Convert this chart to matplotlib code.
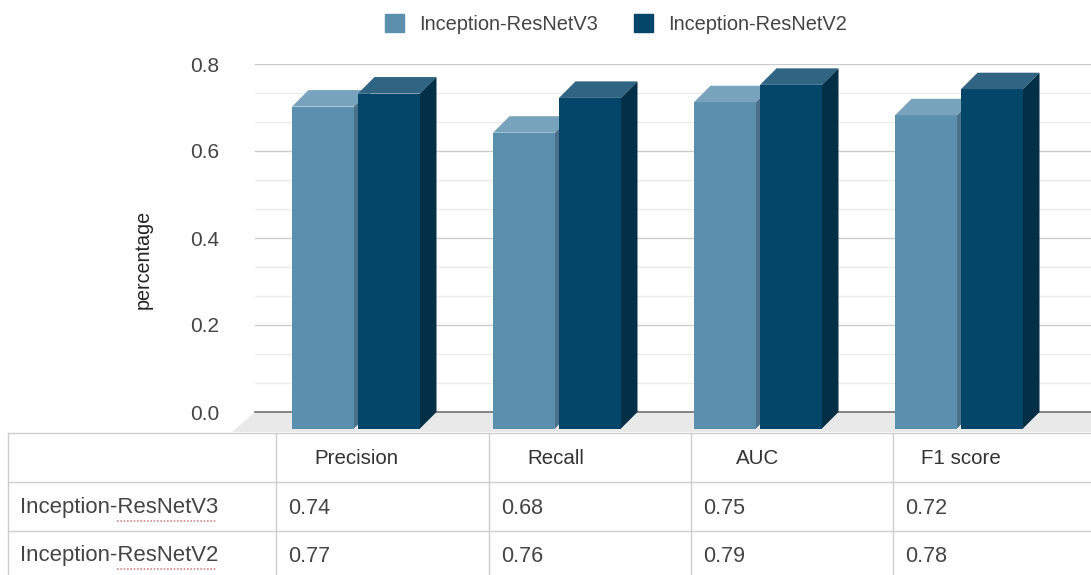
import matplotlib
matplotlib.use('Agg')
import matplotlib.pyplot as plt
from matplotlib.patches import Patch, Polygon

plt.rcParams['font.family'] = ['Liberation Sans', 'DejaVu Sans']

metrics = ['Precision', 'Recall', 'AUC', 'F1 score']
models = ['Inception-ResNetV3', 'Inception-ResNetV2']
v3_values = [0.74, 0.68, 0.75, 0.72]
v2_values = [0.77, 0.76, 0.79, 0.78]
y_ticks = [0.0, 0.2, 0.4, 0.6, 0.8]

W, H = 1091, 575
fig = plt.figure(figsize=(W / 100, H / 100), dpi=100)

#Axes runs from value 0 to 0.8 and the bars hang below it for the 3D effect
ax = fig.add_axes([255 / W, 1 - 412 / H, (W - 255) / W, (412 - 64) / H])
ax.set_ylim(0, 0.8)
# one category is 201 px wide, first one centred at px 356
ax.set_xlim((255 - 356) / 201, (W - 356) / 201)
px_x = 1 / 201
px_y = 0.8 / 348
depth_x = 16.5 * px_x
depth_y = 16.5 * px_y

for s in ['top', 'left', 'right']:
    ax.spines[s].set_visible(False)
ax.spines['bottom'].set_color('#707070')
ax.spines['bottom'].set_linewidth(1.2)
ax.set_xticks([])
ax.set_yticks(y_ticks)
ax.set_yticklabels(['%.1f' % t for t in y_ticks], fontsize=15, color='#444444')
ax.set_yticks([t / 15 for t in range(12) if t % 3 != 0], minor=True)
ax.tick_params(axis='y', which='both', length=0, pad=26)
ax.grid(axis='y', which='major', color='#cccccc', lw=1.0)
ax.grid(axis='y', which='minor', color='#ebebeb', lw=1.0)
ax.set_axisbelow(True)
ax.set_ylabel('percentage', fontsize=14.2, color='#222222')
ax.yaxis.set_label_coords((153 - 255) / (W - 255), (412 - 259) / (412 - 64))

# floor under the bars
floor = Polygon([(ax.get_xlim()[0], 0), (ax.get_xlim()[1], 0), (ax.get_xlim()[1], -depth_y - 3 * px_y),
                 (ax.get_xlim()[0] - 23 * px_x, -depth_y - 3 * px_y)],
                facecolor='#e9e9e9', edgecolor='none', clip_on=False, zorder=1)
ax.add_patch(floor)


def draw_bars(xs, values, bar_w, front, top, side):
    bars = ax.bar(xs, [v for v in values], bar_w, bottom=-depth_y, color=front,
                  clip_on=False, zorder=3, linewidth=0)
    for b in bars:
        x0 = b.get_x()
        x1 = x0 + b.get_width()
        y1 = b.get_y() + b.get_height()
        y0 = b.get_y()
        ax.add_patch(Polygon([(x0, y1), (x1, y1), (x1 + depth_x, y1 + depth_y), (x0 + depth_x, y1 + depth_y)],
                             facecolor=top, edgecolor='none', clip_on=False, zorder=3))
        ax.add_patch(Polygon([(x1, y0), (x1 + depth_x, y0 + depth_y), (x1 + depth_x, y1 + depth_y), (x1, y1)],
                             facecolor=side, edgecolor='none', clip_on=False, zorder=3))


positions = range(len(metrics))
draw_bars([p - 33 * px_x for p in positions], v3_values, 62 * px_x, '#5b8fae', '#77a3bd', '#4a7189')
draw_bars([p + 33 * px_x for p in positions], v2_values, 62 * px_x, '#03466a', '#2f6482', '#032f47')

fig.legend(handles=[Patch(color='#5b8fae'), Patch(color='#03466a')], labels=models,
           loc='center', bbox_to_anchor=(616 / W, 1 - 24 / H), ncol=2, frameon=False,
           fontsize=14.4, labelcolor='#444444', handlelength=0.95, handleheight=0.95,
           handletextpad=0.75, columnspacing=1.8)

#The table under the chart, drawn in pixel coordinates on its own axes
tb = fig.add_axes([0, 0, 1, 1], facecolor='none')
tb.set_xlim(0, W)
tb.set_ylim(H, 0)
tb.axis('off')
line_col = '#cdcdcd'
for y in [433, 482, 531]:
    tb.plot([8, W], [y, y], color=line_col, lw=1.0)
for x in [8, 276, 489, 691, 893]:
    tb.plot([x, x], [433, H], color=line_col, lw=1.0)

header_x = [314, 527, 736, 921]
value_x = [288, 501, 703, 905]
for x, m in zip(header_x, metrics):
    tb.text(x, 458, m, fontsize=14.8, color='#333333', va='center')
for name, vals, y in [(models[0], v3_values, 508), (models[1], v2_values, 556)]:
    tb.text(20, y, name, fontsize=15.9, color='#444444', va='center')
    tb.plot([117, 216], [y + 13, y + 13], color='#d08a8a', lw=1.2, ls=(0, (1, 1)))
    for x, v in zip(value_x, vals):
        tb.text(x, y, '%.2f' % v, fontsize=15.5, color='#444444', va='center')

fig.savefig('out.png', dpi=100)
